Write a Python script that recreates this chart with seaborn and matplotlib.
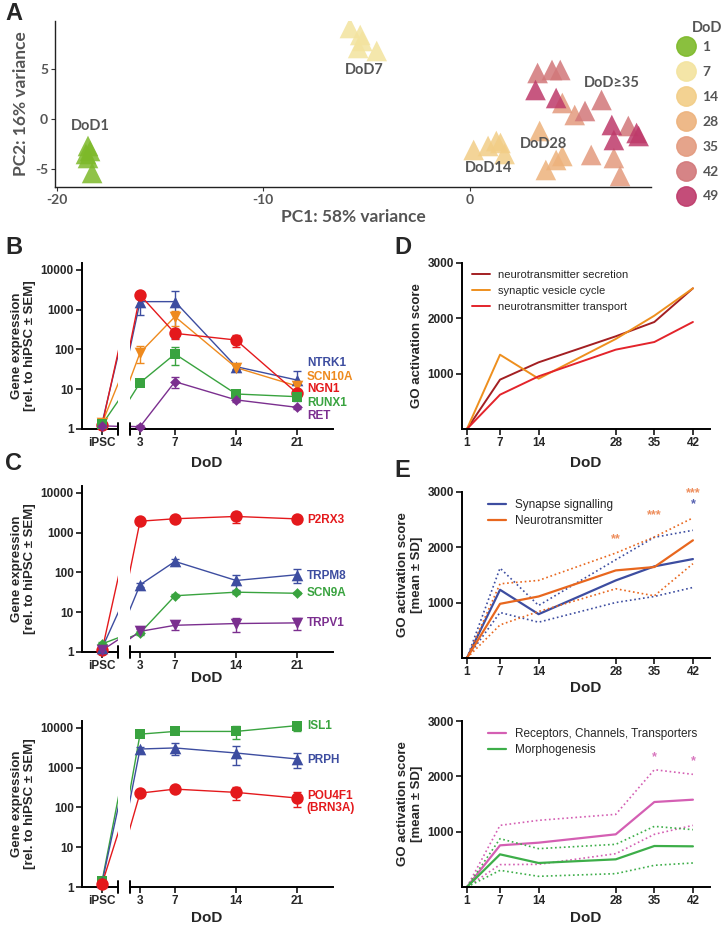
import numpy as np
import pandas as pd
import seaborn as sns
import matplotlib.pyplot as plt
from matplotlib.lines import Line2D
from matplotlib.ticker import NullLocator

# ---------------- A: PCA ----------------
pca_day = [1] * 5 + [7] * 5 + [14] * 5 + [28] * 4 + [35] * 5 + [42] * 6 + [49] * 6
pc1 = [-18.5, -18.4, -18.6, -18.5, -18.3,
       -5.8, -5.3, -5.2, -5.4, -4.5,
       0.2, 0.9, 1.3, 1.5, 1.7,
       3.4, 4.5, 4.2, 3.7,
       4.5, 5.1, 5.9, 7.0, 7.3,
       3.3, 4.0, 4.4, 6.4, 5.6, 7.7,
       3.2, 4.2, 6.9, 7.0, 8.1, 8.2]
pc2 = [-2.7, -3.2, -3.5, -3.9, -5.4,
       9.1, 8.4, 7.8, 7.1, 6.8,
       -3.1, -2.7, -2.2, -2.4, -3.5,
       -1.2, -3.7, -4.1, -5.1,
       1.6, 0.4, -3.6, -3.9, -5.7,
       4.6, 4.9, 4.9, 1.9, 0.8, -0.7,
       2.9, 2.1, -0.6, -2.1, -1.4, -1.7]
day_levels = [1, 7, 14, 28, 35, 42, 49]
day_colors = ['#7DB929', '#F3E39E', '#F2CD86', '#EDB27C', '#E39A7E', '#D27779', '#BE3A6A']
cluster_names = ['DoD1', 'DoD7', 'DoD14', 'DoD28', 'DoD≥35']
cluster_pc1 = [-18.4, -5.1, 0.9, 3.6, 6.9]
cluster_pc2 = [-0.7, 4.9, -4.9, -2.5, 3.6]

# ---------------- B / C: qPCR ----------------
qpcr_x = [0, 3, 7, 14, 21]
qpcr_labels = ['iPSC', '3', '7', '14', '21']

b_genes = ['NTRK1', 'SCN10A', 'NGN1', 'RUNX1', 'RET']
b_values = [[1.4, 1600, 1600, 37, 17],
            [1.4, 83, 670, 35, 12],
            [1.25, 2350, 255, 173, 7.9],
            [1.3, 14.6, 77, 7.6, 6.5],
            [1.2, 1.14, 15.5, 5.4, 3.5]]
b_sem = [[0.2, 860, 1400, 5, 12],
         [0.2, 38, 280, 5, 3],
         [0.1, 300, 70, 55, 1],
         [0.2, 2, 36, 1, 0.5],
         [0.1, 0.1, 5, 0.5, 0.4]]
b_label_y = [45, 20.7, 10, 4.6, 2.1]

c1_genes = ['P2RX3', 'TRPM8', 'SCN9A', 'TRPV1']
c1_values = [[1.1, 1950, 2250, 2570, 2230],
             [1.25, 49, 190, 63, 88],
             [1.6, 3.0, 26, 32, 30],
             [1.1, 3.3, 4.7, 5.2, 5.4]]
c1_sem = [[0.1, 200, 300, 800, 300],
          [0.2, 5, 30, 26, 34],
          [0.2, 0.3, 2, 3, 2],
          [0.1, 0.4, 1.2, 2.1, 1.8]]
c1_label_y = [2150, 83, 30, 5.4]

c2_genes = ['ISL1', 'PRPH', 'POU4F1\n(BRN3A)']
c2_values = [[1.4, 7000, 8200, 8200, 11500],
             [1.3, 2960, 3150, 2350, 1660],
             [1.2, 230, 290, 240, 173]]
c2_sem = [[0.2, 700, 900, 2800, 3000],
          [0.2, 400, 1000, 1200, 650],
          [0.1, 30, 30, 85, 70]]
c2_label_y = [11500, 1600, 137]

# ---------------- D / E: GO activation ----------------
go_x = [1, 7, 14, 28, 35, 42]
d_names = ['neurotransmitter secretion', 'synaptic vesicle cycle', 'neurotransmitter transport']
d_secretion = [0, 892, 1205, 1675, 1934, 2542]
d_vesicle = [0, 1343, 910, 1627, 2048, 2542]
d_transport = [0, 620, 952, 1434, 1572, 1934]

e1_names = ['Synapse signalling', 'Neurotransmitter']
synapse_mean = [0, 1233, 792, 1402, 1656, 1788]
synapse_hi = [0, 1625, 949, 1776, 2181, 2308]
synapse_lo = [0, 822, 647, 1003, 1112, 1275]
neuro_mean = [0, 979, 1112, 1583, 1644, 2127]
neuro_hi = [0, 1341, 1402, 1897, 2187, 2532]
neuro_lo = [0, 598, 840, 1251, 1124, 1704]
e1_stars = ['**', '***', '***', '*']
e1_star_x = [28, 35, 42, 42]
e1_star_y = [2139, 2574, 2979, 2773]

e2_names = ['Receptors, Channels, Transporters', 'Morphogenesis']
receptor_mean = [0, 753, 801, 952, 1536, 1578]
receptor_hi = [0, 1114, 1205, 1313, 2120, 2036]
receptor_lo = [0, 404, 410, 602, 952, 1114]
morpho_mean = [0, 590, 434, 500, 741, 735]
morpho_hi = [0, 873, 693, 771, 1096, 1036]
morpho_lo = [0, 301, 193, 241, 392, 434]
e2_stars = ['*', '*']
e2_star_x = [35, 42]
e2_star_y = [2349, 2277]

BLUE, ORANGE, RED, GREEN, PURPLE = '#3D4DA0', '#EE8A1E', '#E4191C', '#39A33F', '#7B2F8F'

sns.set_theme(style='ticks')
plt.rcParams['font.family'] = ['Liberation Sans', 'DejaVu Sans']
plt.rcParams['font.weight'] = 'bold'
plt.rcParams['axes.labelweight'] = 'bold'

W, H = 724, 927
fig = plt.figure(figsize=(W / 100, H / 100), dpi=100)


def add_ax(l, r, t, b):
    return fig.add_axes([l / W, 1 - b / H, (r - l) / W, (b - t) / H])


def letter(x, y, s):
    fig.text(x / W, 1 - y / H, s, fontsize=17, fontweight='bold', va='center', ha='left')


# ---------- panel A ----------
GRAY = '#555555'
lato = ['Lato', 'DejaVu Sans']
axA = add_ax(55, 651, 21, 187)
pca = pd.DataFrame({'pc1': pc1, 'pc2': pc2, 'day': pca_day})
sns.scatterplot(data=pca, x='pc1', y='pc2', hue='day', hue_order=day_levels,
                palette=dict(zip(day_levels, day_colors)), marker='^', s=220,
                alpha=0.85, linewidth=0, legend=False, ax=axA)
for name, x, y in zip(cluster_names, cluster_pc1, cluster_pc2):
    axA.text(x, y, name, color=GRAY, fontsize=10.5, fontweight='bold', family=lato,
             ha='center', va='center')
axA.set_xlim(-20.1, 8.8)
axA.set_ylim(-6.8, 9.8)
axA.set_xticks([-20, -10, 0])
axA.set_yticks([-5, 0, 5])
axA.set_xticklabels(['-20', '-10', '0'])
axA.set_yticklabels(['-5', '0', '5'])
for t in axA.get_xticklabels() + axA.get_yticklabels():
    t.set_family(lato)
    t.set_color(GRAY)
    t.set_fontsize(10)
axA.tick_params(length=3, width=0.8, color='#333333', pad=2)
axA.set_xlabel('PC1: 58% variance', fontsize=12.5, color=GRAY, family=lato, labelpad=2)
axA.set_ylabel('PC2: 16% variance', fontsize=12.5, color=GRAY, family=lato, labelpad=4)
sns.despine(ax=axA)
for s in ('left', 'bottom'):
    axA.spines[s].set_linewidth(1.0)
    axA.spines[s].set_color('#222222')
handles = [Line2D([], [], marker='o', ls='', ms=14, color=c, alpha=0.9) for c in day_colors]
fig.legend(handles, [str(d) for d in day_levels], loc='upper left',
           bbox_to_anchor=(672 / W, 1 - 41 / H), frameon=False,
           labelspacing=0.93, handletextpad=0.2, borderaxespad=0, borderpad=0,
           prop={'family': lato, 'size': 10}, labelcolor=GRAY)
fig.text(707 / W, 1 - 28 / H, 'DoD', color=GRAY, family=lato, fontsize=10.5,
         fontweight='bold', ha='center', va='center')
letter(5, 13, 'A')


# ---------- panels B / C ----------
def expr_panel(top, bot, genes, values, sems, colors, markers, sizes, label_y, xlab_y):
    axl = add_ax(82, 118, top, bot)
    axr = add_ax(130, 333, top, bot)
    df = pd.DataFrame({
        'gene': np.repeat(genes, len(qpcr_x)),
        'day': qpcr_x * len(genes),
        'value': np.concatenate(values),
        'sem': np.concatenate(sems),
    })
    for ax, lim in ((axl, (-2.1, 1.67)), (axr, (1.85, 25.1))):
        ax.set_yscale('log')
        ax.set_xlim(lim)
        ax.set_ylim(1, 15000)
        for g, c, m, sz in zip(genes, colors, markers, sizes):
            sub = df[df.gene == g]
            sns.lineplot(data=sub, x='day', y='value', color=c, lw=1, errorbar=None,
                         legend=False, ax=ax, zorder=2)
            vis = sub[(sub.day >= lim[0]) & (sub.day <= lim[1])]
            ax.errorbar(vis.day, vis.value, yerr=vis['sem'], fmt='none', ecolor=c,
                        elinewidth=1, capsize=3, capthick=1, zorder=3)
            sns.scatterplot(data=vis, x='day', y='value', color=c, marker=m, s=sz,
                            linewidth=0, legend=False, ax=ax, zorder=4, clip_on=False)
        ax.set_xlabel('')
        ax.set_ylabel('')
        ax.yaxis.set_minor_locator(NullLocator())
        ax.tick_params(length=4, width=1.3, labelsize=8.5, pad=2)
        for s in ('top', 'right'):
            ax.spines[s].set_visible(False)
        for s in ('left', 'bottom'):
            ax.spines[s].set_linewidth(1.4)
            ax.spines[s].set_color('black')
    axl.set_xticks([0])
    axl.set_xticklabels(qpcr_labels[:1])
    axl.set_yticks([1, 10, 100, 1000, 10000])
    axl.set_yticklabels(['1', '10', '100', '1000', '10000'])
    axl.set_ylabel('Gene expression\n[rel. to hiPSC ± SEM]', fontsize=9.5, labelpad=3)
    axr.spines['left'].set_visible(False)
    axr.set_yticks([])
    axr.set_xticks(qpcr_x[1:])
    axr.set_xticklabels(qpcr_labels[1:])
    # axis break marks
    for ax, xb in ((axl, 1.0), (axr, 0.0)):
        ax.plot([xb, xb], [-0.035, 0.035], transform=ax.transAxes, color='black',
                lw=1.4, clip_on=False)
    for g, c, y in zip(genes, colors, label_y):
        axr.text(22.1, y, g, color=c, fontsize=8.5, fontweight='bold', ha='left',
                 va='center', linespacing=1.05)
    fig.text(207 / W, 1 - xlab_y / H, 'DoD', fontsize=11, fontweight='bold',
             ha='center', va='center')


expr_panel(263, 429, b_genes, b_values, b_sem,
           [BLUE, ORANGE, RED, GREEN, PURPLE], ['^', 'v', 'o', 's', 'D'],
           [70, 70, 80, 60, 30], b_label_y, 463)
expr_panel(486, 652, c1_genes, c1_values, c1_sem,
           [RED, BLUE, GREEN, PURPLE], ['o', '^', 'D', 'v'],
           [80, 70, 30, 70], c1_label_y, 678)
expr_panel(721, 887, c2_genes, c2_values, c2_sem,
           [GREEN, BLUE, RED], ['s', '^', 'o'],
           [60, 70, 80], c2_label_y, 918)
letter(5, 247, 'B')
letter(5, 463, 'C')


# ---------- panels D / E ----------
def go_axes(top, bot, ylabel, xlab_y):
    ax = add_ax(462, 710, top, bot)
    ax.set_xlim(0.1, 45.1)
    ax.set_ylim(0, 3000)
    ax.set_xticks(go_x)
    ax.set_yticks([1000, 2000, 3000])
    ax.tick_params(length=4, width=1.3, labelsize=8.5, pad=2)
    for s in ('top', 'right'):
        ax.spines[s].set_visible(False)
    for s in ('left', 'bottom'):
        ax.spines[s].set_linewidth(1.4)
        ax.spines[s].set_color('black')
    ax.set_xlabel('')
    ax.set_ylabel(ylabel, fontsize=9.5, labelpad=3)
    fig.text(586 / W, 1 - xlab_y / H, 'DoD', fontsize=11, fontweight='bold',
             ha='center', va='center')
    return ax


def go_legend(ax, size, x0, spacing):
    ax.legend(loc='upper left', bbox_to_anchor=(x0, 1.02), frameon=False,
              handlelength=1.6, handletextpad=0.7, labelspacing=spacing,
              prop={'family': 'Liberation Sans', 'size': size, 'weight': 'normal'})


axD = go_axes(263, 429, 'GO activation score', 463)
for name, ys, c in zip(d_names, [d_secretion, d_vesicle, d_transport], ['#A31F22', '#EE8F1E', '#E3242B']):
    sns.lineplot(x=go_x, y=ys, color=c, lw=1.4, label=name, ax=axD)
go_legend(axD, 8, 0.0, 0.55)
letter(394, 247, 'D')

axE1 = go_axes(492, 658, 'GO activation score\n[mean ± SD]', 688)
for name, m, hi, lo, c in zip(e1_names, [synapse_mean, neuro_mean], [synapse_hi, neuro_hi],
                              [synapse_lo, neuro_lo], [BLUE, '#E8671E']):
    sns.lineplot(x=go_x, y=m, color=c, lw=1.6, label=name, ax=axE1)
    sns.lineplot(x=go_x, y=hi, color=c, lw=1.2, ls=':', ax=axE1)
    sns.lineplot(x=go_x, y=lo, color=c, lw=1.2, ls=':', ax=axE1)
for s, x, y, c in zip(e1_stars, e1_star_x, e1_star_y, ['#EE8F5E', '#EE8F5E', '#EE8F5E', '#5560B0']):
    axE1.text(x, y, s, color=c, fontsize=9, ha='center', va='center')
go_legend(axE1, 8.5, 0.06, 0.35)
letter(394, 470, 'E')

axE2 = go_axes(721, 887, 'GO activation score\n[mean ± SD]', 918)
for name, m, hi, lo, c in zip(e2_names, [receptor_mean, morpho_mean], [receptor_hi, morpho_hi],
                              [receptor_lo, morpho_lo], ['#D45FB3', '#3DAE49']):
    sns.lineplot(x=go_x, y=m, color=c, lw=1.6, label=name, ax=axE2)
    sns.lineplot(x=go_x, y=hi, color=c, lw=1.2, ls=':', ax=axE2)
    sns.lineplot(x=go_x, y=lo, color=c, lw=1.2, ls=':', ax=axE2)
for s, x, y in zip(e2_stars, e2_star_x, e2_star_y):
    axE2.text(x, y, s, color='#D877BE', fontsize=9, ha='center', va='center')
go_legend(axE2, 8.5, 0.06, 0.35)

fig.savefig('out.png', dpi=100)
